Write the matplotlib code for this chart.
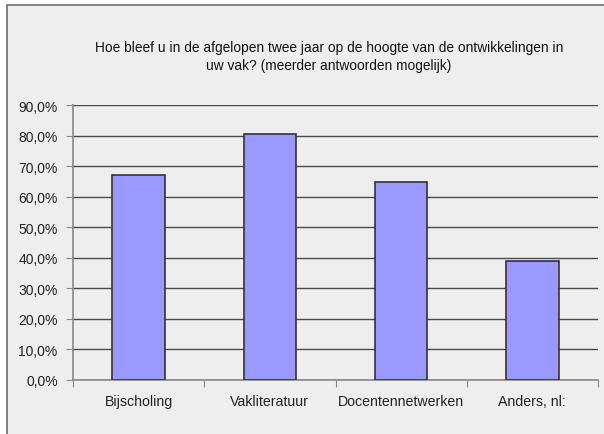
import matplotlib.pyplot as plt
from matplotlib.patches import Rectangle
from matplotlib.ticker import FuncFormatter

categories = ['Bijscholing', 'Vakliteratuur', 'Docentennetwerken', 'Anders, nl:']
values = [67.1, 80.5, 64.7, 38.8]
title = ('Hoe bleef u in de afgelopen twee jaar op de hoogte van de ontwikkelingen in\n'
         'uw vak? (meerder antwoorden mogelijk)')

plt.rcParams['font.family'] = ['Liberation Sans', 'DejaVu Sans']

fig = plt.figure(figsize=(6.04, 4.35), dpi=100, facecolor='white')
W, H = 604, 435
bg = Rectangle((7 / W, -0.01), 1.0, 1 - 6 / H + 0.01, transform=fig.transFigure,
               facecolor='#eeeeee', edgecolor='#6e6e6e', linewidth=1.2, zorder=-10)
fig.add_artist(bg)

ax = fig.add_axes([73 / W, 1 - 381 / H, 525 / W, 275 / H])
ax.set_facecolor('#eeeeee')
x = range(len(categories))
ax.bar(x, values, width=0.4, color='#9999ff', edgecolor='#333333', linewidth=1.2, zorder=3)

ax.set_xlim(-0.5, len(categories) - 0.5)
ax.set_ylim(0, 90)
ax.set_yticks(range(0, 91, 10))
ax.yaxis.set_major_formatter(FuncFormatter(lambda v, p: f'{v:.1f}%'.replace('.', ',')))
ax.set_xticks([i - 0.5 for i in range(len(categories) + 1)])
ax.set_xticklabels([])
ax.set_xticks(list(x), minor=True)
ax.set_xticklabels(categories, minor=True)
ax.tick_params(axis='x', which='minor', length=0, pad=10, labelsize=10.2, labelcolor='#222222')
ax.tick_params(axis='x', which='major', length=5, color='#888888', direction='out')
ax.tick_params(axis='y', length=5, color='#888888', pad=6, labelsize=10, labelcolor='#222222')

ax.grid(axis='y', color='#4a4a4a', linewidth=1.0, zorder=1)
for s in ['top', 'right']:
    ax.spines[s].set_visible(False)
for s in ['left', 'bottom']:
    ax.spines[s].set_color('#888888')
    ax.spines[s].set_linewidth(1.2)

fig.text(329 / W, 1 - 57 / H, title, ha='center', va='center', fontsize=9.9,
         color='#111111', linespacing=1.35)

fig.savefig('out.png', dpi=100, facecolor=fig.get_facecolor())
